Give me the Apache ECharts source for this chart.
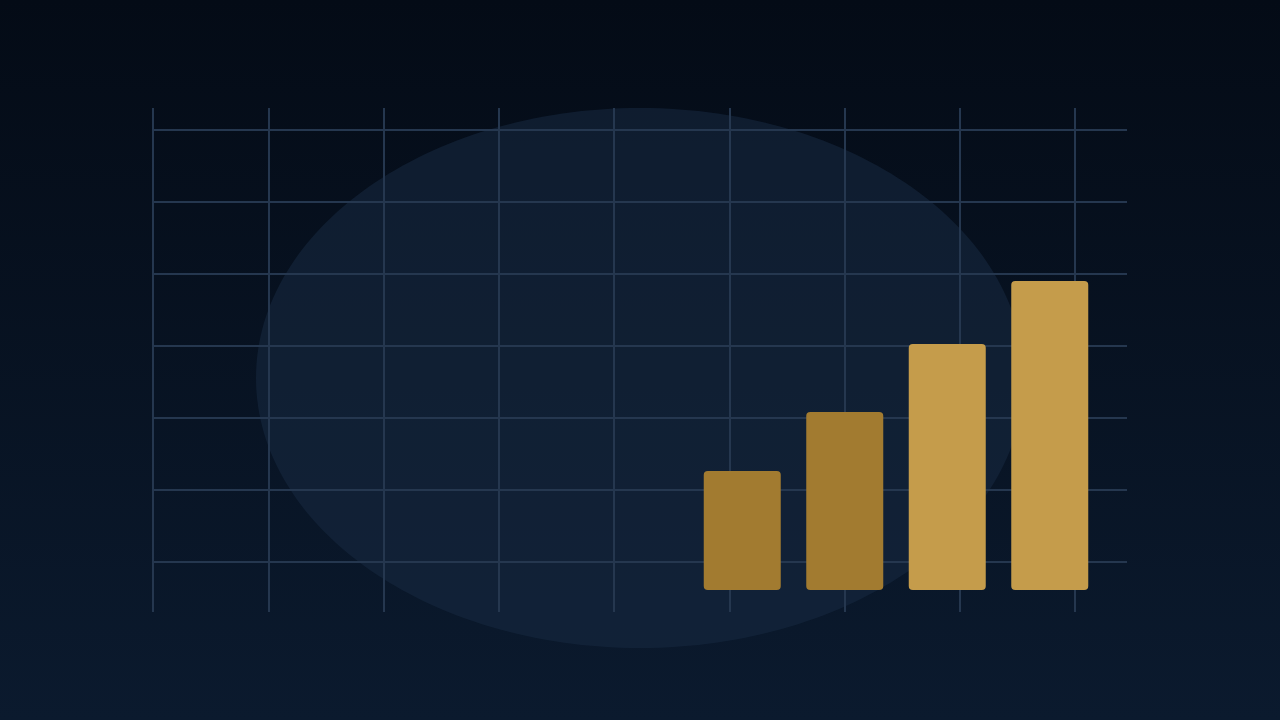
<!DOCTYPE html>
<html>
<head>
<meta charset="utf-8">
<style>html,body{margin:0;padding:0;width:1280px;height:720px;overflow:hidden;background:#07101e}#c{width:1280px;height:720px}</style>
<script src="https://cdn.jsdelivr.net/npm/echarts@6/dist/echarts.min.js"></script>
</head>
<body>
<div id="c"></div>
<script>
const categories = ['A', 'B', 'C', 'D'];
const barValues = [119, 178, 246, 309];
const barColors = ['#A27B30', '#A27B30', '#C59C4B', '#C59C4B'];
const verticalTicks = [0, 8];
const horizontalTicks = [0, 6];

const chart = echarts.init(document.getElementById('c'));
const lineColor = '#25374f';
chart.setOption({
  animation: false,
  backgroundColor: {
    type: 'linear', x: 0, y: 0, x2: 0, y2: 1,
    colorStops: [
      { offset: 0, color: '#040b16' },
      { offset: 1, color: '#0b1a2e' }
    ]
  },
  graphic: [{
    type: 'ellipse',
    z: -10,
    shape: { cx: 640, cy: 378, rx: 384, ry: 270 },
    style: { fill: 'rgba(24,42,66,0.55)' },
    silent: true
  }],
  grid: [
    { left: 153, right: 205, top: 108, bottom: 108 },
    { left: 153, right: 153, top: 130, bottom: 158 },
    { left: 691, right: 179, top: 190, bottom: 130 }
  ],
  xAxis: [
    { gridIndex: 0, type: 'value', min: verticalTicks[0], max: verticalTicks[1], interval: 1,
      axisLine: { show: false }, axisTick: { show: false }, axisLabel: { show: false },
      splitLine: { show: true, lineStyle: { color: lineColor, width: 2 } } },
    { gridIndex: 1, type: 'value', show: false, splitLine: { show: false } },
    { gridIndex: 2, type: 'category', data: categories, show: false }
  ],
  yAxis: [
    { gridIndex: 0, type: 'value', show: false, splitLine: { show: false } },
    { gridIndex: 1, type: 'value', min: horizontalTicks[0], max: horizontalTicks[1], interval: 1,
      axisLine: { show: false }, axisTick: { show: false }, axisLabel: { show: false },
      splitLine: { show: true, lineStyle: { color: lineColor, width: 2 } } },
    { gridIndex: 2, type: 'value', min: 0, max: 400, show: false, splitLine: { show: false } }
  ],
  series: [{
    type: 'bar',
    xAxisIndex: 2, yAxisIndex: 2,
    barWidth: 77,
    z: 5,
    data: barValues.map((v, i) => ({ value: v, itemStyle: { color: barColors[i], borderRadius: 4 } }))
  }]
});
</script>
</body>
</html>
